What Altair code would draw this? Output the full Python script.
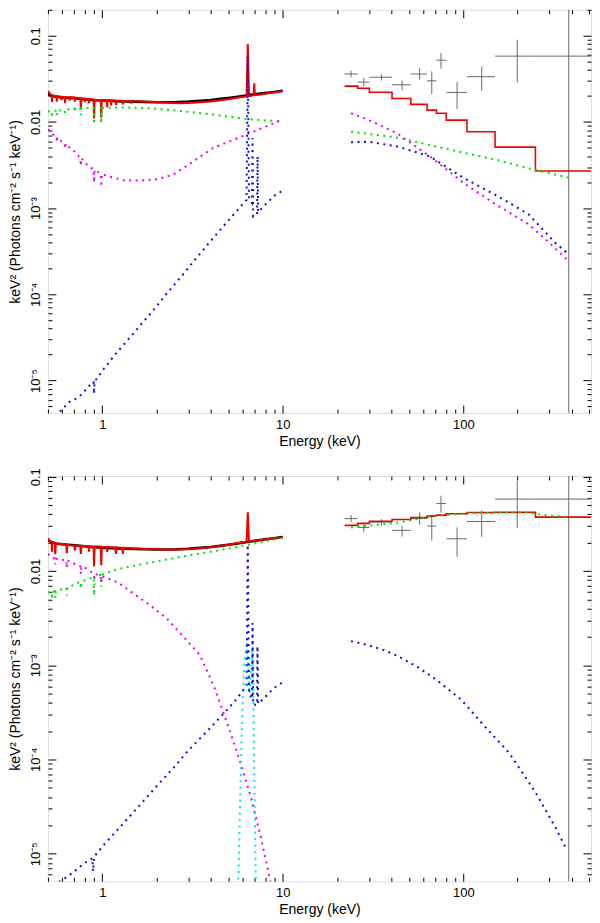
import math
import altair as alt
import pandas as pd

FONT = "Liberation Sans"
RED = "#f00000"
GREEN = "#00e000"
MAGENTA = "#ee00ee"
BLUE = "#1010d0"
CYAN = "#00e8e8"
GRAY = "#6a6a6a"

# ---------------- axes ----------------
X_DOMAIN = [0.5, 510]
TOP_Y_DOMAIN = [4.2e-6, 0.2]
BOT_Y_DOMAIN = [5.1e-6, 0.102]
X_MAJOR = [1, 10, 100]
X_LABELS = ["1", "10", "100"]
Y_MAJOR = [1e-5, 1e-4, 1e-3, 0.01, 0.1]
Y_LABELS = ["10⁻⁵", "10⁻⁴", "10⁻³", "0.01", "0.1"]
MINOR_MULT = [2, 3, 4, 5, 6, 7, 8, 9]
X_TITLE = "Energy (keV)"
Y_TITLE = "keV² (Photons cm⁻² s⁻¹ keV⁻¹)"

# ---------------- low-energy data (both panels) ----------------
DATA_LO_E = [0.50, 0.55, 0.60, 0.70, 0.80, 0.90, 1.0, 1.2, 1.5, 2.0, 2.5, 3.0, 3.5, 4.0,
             4.5, 5.0, 5.5, 6.0, 6.3, 6.6, 7.0, 7.5, 8.0, 8.5, 9.0, 9.5, 10.0]
DATA_LO_V = [0.0210, 0.0196, 0.0192, 0.0188, 0.0183, 0.0179, 0.0177, 0.0174, 0.0172, 0.0169,
             0.0169, 0.0172, 0.0176, 0.0180, 0.0185, 0.0190, 0.0195, 0.0200, 0.0203, 0.0206,
             0.0209, 0.0213, 0.0217, 0.0220, 0.0223, 0.0227, 0.0230]

# ---------------- high-energy data (both panels) ----------------
HI_E = [23.9, 28.1, 35.2, 45.8, 57.3, 66.9, 75.2, 92.4, 126.5, 199, 384]
HI_E_LO = [22.0, 26.0, 30.2, 40.3, 51.2, 63.0, 71.0, 80.5, 104.8, 150, 251]
HI_E_HI = [26.0, 30.2, 40.3, 51.2, 63.0, 71.0, 80.5, 104.8, 150, 251, 560]
HI_F = [0.036, 0.029, 0.033, 0.027, 0.036, 0.030, 0.052, 0.022, 0.0335, 0.058, 0.058]
HI_F_LO = [0.033, 0.0258, 0.0302, 0.0232, 0.031, 0.021, 0.0415, 0.0142, 0.023, 0.0287, 1e-9]
HI_F_HI = [0.0392, 0.0325, 0.0355, 0.0302, 0.042, 0.0387, 0.063, 0.029, 0.044, 0.090, 10.0]

MODEL_EDGES = [22.0, 26.0, 30.2, 40.3, 51.2, 63.0, 71.0, 80.5, 104.8, 150, 251, 560]

# ---------------- top panel models ----------------
TOP_RED_E = [0.50, 0.505, 0.515, 0.524, 0.526, 0.528,
             0.55, 0.558, 0.56, 0.562,
             0.59, 0.595, 0.60,
             0.618, 0.622, 0.626,
             0.655, 0.66, 0.665,
             0.70, 0.706, 0.71,
             0.755, 0.761, 0.767,
             0.795, 0.80, 0.805,
             0.84, 0.845, 0.85,
             0.895, 0.901, 0.907,
             0.98, 0.987, 0.994,
             1.058, 1.065, 1.072,
             1.115, 1.12, 1.125,
             1.18, 1.19, 1.20,
             1.29, 1.30, 1.31,
             1.44, 1.45, 1.46,
             1.8, 2.2, 2.7, 3.2, 4.0, 5.0, 5.8,
             6.3, 6.4, 6.5,
             6.9, 6.95, 7.0,
             7.7, 8.5, 10.0]
TOP_RED_V = [0.0220, 0.0223, 0.0210, 0.0204, 0.0170, 0.0203,
             0.0200, 0.0199, 0.0172, 0.0199,
             0.0197, 0.0180, 0.0196,
             0.0195, 0.0165, 0.0195,
             0.0194, 0.0178, 0.0194,
             0.0192, 0.0172, 0.0192,
             0.0189, 0.0144, 0.0188,
             0.0186, 0.0170, 0.0186,
             0.0184, 0.0165, 0.0183,
             0.0182, 0.0110, 0.0181,
             0.0180, 0.0113, 0.0180,
             0.0179, 0.0148, 0.0179,
             0.0178, 0.0155, 0.0178,
             0.0177, 0.0158, 0.0177,
             0.0176, 0.0160, 0.0176,
             0.0175, 0.0163, 0.0175,
             0.0172, 0.0168, 0.0165, 0.0167, 0.0173, 0.0183, 0.0193,
             0.0198, 0.0800, 0.0200,
             0.0204, 0.0280, 0.0205,
             0.0210, 0.0217, 0.0227]

TOP_GRN_E = [0.50, 0.524, 0.526, 0.528, 0.558, 0.56, 0.562, 0.60,
             0.618, 0.622, 0.626, 0.70, 0.706, 0.71, 0.755, 0.761, 0.767,
             0.895, 0.901, 0.907, 0.98, 0.987, 0.994,
             1.3, 1.6, 2.0, 2.7, 4.1, 6.3, 10.0]
TOP_GRN_V = [0.0132, 0.0134, 0.0112, 0.0134, 0.0135, 0.0120, 0.0135, 0.0137,
             0.0138, 0.0128, 0.0138, 0.0144, 0.0130, 0.0144, 0.0145, 0.0120, 0.0145,
             0.0146, 0.0094, 0.0146, 0.0146, 0.0096, 0.0146,
             0.0147, 0.0146, 0.0142, 0.0134, 0.0122, 0.0108, 0.0101]

TOP_MAG_E = [0.50, 0.549, 0.558, 0.56, 0.562, 0.597, 0.618, 0.622, 0.626, 0.649,
             0.706, 0.755, 0.761, 0.767, 0.80, 0.895, 0.901, 0.907, 0.98, 0.987, 0.994,
             1.074, 1.32, 1.63, 2.01, 2.48, 2.94, 4.11, 6.26, 10.0]
TOP_MAG_V = [0.0082, 0.0068, 0.0066, 0.0058, 0.0066, 0.0059, 0.0056, 0.0049, 0.0056, 0.0052,
             0.0045, 0.0038, 0.0031, 0.0038, 0.00335, 0.0028, 0.00198, 0.0028, 0.0025, 0.00177, 0.0025,
             0.00235, 0.0021, 0.0021, 0.00216, 0.00246, 0.0031, 0.0050, 0.0071, 0.0107]

TOP_BLU_E = [0.52, 0.55, 0.60, 0.65, 0.70, 0.75, 0.80, 0.85, 0.88, 0.895, 0.901, 0.907,
             0.95, 1.0, 1.2, 1.5, 1.85, 2.3, 2.8, 3.2, 4.0, 5.0, 5.9,
             6.3, 6.4, 6.5, 6.75, 6.8, 6.85, 7.2, 7.25, 7.3, 8.0, 9.0, 10.0]
TOP_BLU_V = [3.4e-6, 4.0e-6, 4.6e-6, 5.6e-6, 6.0e-6, 6.6e-6, 7.6e-6, 8.8e-6, 9.4e-6, 9.6e-6, 7.0e-6, 9.8e-6,
             1.1e-5, 1.3e-5, 2.1e-5, 3.6e-5, 6.0e-5, 1.05e-4, 1.7e-4, 2.4e-4, 4.2e-4, 7.2e-4, 1.07e-3,
             1.25e-3, 5.8e-2, 1.3e-3, 1.15e-3, 6.5e-3, 8.0e-4, 8.5e-4, 4.0e-3, 9.0e-4, 1.1e-3, 1.4e-3, 1.6e-3]

TOP_STEP = [0.0260, 0.0246, 0.0221, 0.0187, 0.0160, 0.0137, 0.0126, 0.0105, 0.0077, 0.0051, 0.0027]
TOP_HI_MAG_E = [23.9, 30, 43, 65, 100, 151, 230, 295, 385]
TOP_HI_MAG_V = [0.0126, 0.0105, 0.0074, 0.0040, 0.00197, 0.00111, 0.00065, 0.00041, 0.00024]
TOP_HI_GRN_E = [23.9, 43, 65, 100, 151, 230, 385]
TOP_HI_GRN_V = [0.0077, 0.0066, 0.0054, 0.0044, 0.00366, 0.0029, 0.00225]
TOP_HI_BLU_E = [23.9, 30, 43, 65, 100, 151, 230, 322, 385]
TOP_HI_BLU_V = [0.0058, 0.0059, 0.0052, 0.0040, 0.00225, 0.00142, 0.00085, 0.00040, 0.00029]

# ---------------- bottom panel models ----------------
BOT_RED_E = [0.50, 0.505, 0.515, 0.524, 0.526, 0.528,
             0.545, 0.549, 0.553, 0.60,
             0.632, 0.636, 0.640,
             0.70, 0.706, 0.71,
             0.755, 0.761, 0.767,
             0.84, 0.845, 0.85,
             0.895, 0.901, 0.907,
             0.98, 0.987, 0.994,
             1.058, 1.065, 1.072,
             1.18, 1.19, 1.20,
             1.29, 1.30, 1.31,
             1.6, 2.29, 3.2, 4.28, 5.2, 5.74,
             6.3, 6.4, 6.5, 10.0]
BOT_RED_V = [0.0210, 0.0217, 0.0205, 0.0200, 0.0160, 0.0199,
             0.0197, 0.0151, 0.0196, 0.0192,
             0.0190, 0.0155, 0.0190,
             0.0186, 0.0165, 0.0186,
             0.0184, 0.0152, 0.0184,
             0.0183, 0.0160, 0.0183,
             0.0182, 0.0112, 0.0182,
             0.0182, 0.0115, 0.0181,
             0.0180, 0.0160, 0.0180,
             0.0178, 0.0152, 0.0178,
             0.0176, 0.0152, 0.0176,
             0.0172, 0.0168, 0.0171, 0.0182, 0.0192, 0.0200,
             0.0205, 0.0420, 0.0207, 0.0227]

BOT_GRN_E = [0.50, 0.524, 0.526, 0.528, 0.545, 0.549, 0.553, 0.632, 0.636, 0.640, 0.649,
             0.755, 0.761, 0.767, 0.895, 0.901, 0.907, 0.98, 0.987, 0.994,
             1.218, 1.853, 2.82, 4.28, 5.74, 10.0]
BOT_GRN_V = [0.0059, 0.0060, 0.0050, 0.0060, 0.0061, 0.0052, 0.0061, 0.0066, 0.0055, 0.0066, 0.0067,
             0.0077, 0.0065, 0.0077, 0.0086, 0.0055, 0.0086, 0.0091, 0.0068, 0.0091,
             0.0105, 0.0123, 0.0143, 0.0164, 0.0182, 0.0226]

BOT_MAG_E = [0.50, 0.526, 0.545, 0.549, 0.553, 0.632, 0.636, 0.640, 0.649,
             0.755, 0.761, 0.767, 0.80, 0.895, 0.901, 0.907, 0.98, 0.987, 0.994,
             1.218, 1.50, 1.853, 2.29, 2.82, 3.47, 4.2, 4.76, 5.63, 6.66, 7.55, 8.56, 9.2]
BOT_MAG_V = [0.0152, 0.0139, 0.0136, 0.0118, 0.0135, 0.0130, 0.0108, 0.0129, 0.0128,
             0.0112, 0.0093, 0.0111, 0.0109, 0.0094, 0.0085, 0.0093, 0.0089, 0.0075, 0.0088,
             0.0076, 0.0057, 0.0043, 0.0031, 0.0020, 0.00129, 0.00057, 0.00029, 0.000114,
             0.000040, 0.000015, 0.0000050, 0.0000025]

BOT_BLU_E = [0.55, 0.573, 0.649, 0.70, 0.80, 0.86, 0.88, 0.89, 0.90, 0.95, 1.0,
             1.5, 2.0, 2.5, 3.0, 4.0, 5.0, 5.5, 6.1, 6.3, 6.4, 6.5,
             6.75, 6.8, 6.85, 7.2, 7.24, 7.3, 7.9, 8.9, 10.0]
BOT_BLU_V = [4.4e-6, 5.0e-6, 5.8e-6, 6.5e-6, 8.0e-6, 8.6e-6, 9.0e-6, 6.5e-6, 9.3e-6, 1.05e-5, 1.19e-5,
             2.8e-5, 5.2e-5, 8.3e-5, 1.25e-4, 2.2e-4, 3.5e-4, 4.3e-4, 5.6e-4, 6.1e-4, 1.9e-2, 5.0e-4,
             4.4e-4, 2.8e-3, 3.8e-4, 3.8e-4, 1.6e-3, 3.9e-4, 4.5e-4, 5.7e-4, 6.6e-4]

BOT_CYN_E = [5.55, 5.67, 5.87, 6.0, 6.15, 6.33, 6.55, 6.8, 6.87, 6.94, 7.09, 7.2]
BOT_CYN_V = [1.5e-6, 5e-6, 9e-5, 4.5e-4, 1.1e-3, 1.8e-3, 5e-4, 1.5e-3, 4.5e-4, 9e-5, 5e-6, 1.5e-6]

BOT_STEP = [0.0305, 0.0320, 0.0338, 0.0352, 0.0370, 0.0382, 0.0392, 0.0405, 0.0418, 0.0421, 0.0373]
BOT_HI_GRN_E = [23.9, 43, 65, 100, 151, 230, 296, 385]
BOT_HI_GRN_V = [0.0290, 0.0326, 0.0377, 0.0408, 0.0415, 0.0415, 0.0388, 0.0377]
BOT_HI_BLU_E = [23.9, 29.6, 36.3, 43, 55.3, 71, 97.6, 133.5, 178.5, 251, 323, 369]
BOT_HI_BLU_V = [1.8e-3, 1.64e-3, 1.45e-3, 1.26e-3, 9.7e-4, 7.0e-4, 4.3e-4, 2.17e-4, 1.19e-4, 4.5e-5, 1.92e-5, 1.16e-5]

# ---------------- layout ----------------
PLOT_W = 544
TOP_H = 404
BOT_H = 406
MAJOR_TICK = 8
MINOR_TICK = 4
DOT = [2, 4.5]


def label_expr(vals, labs):
    s = "''"
    for v, lab in zip(vals, labs):
        s = f"abs(log(datum.value)/LN10 - ({math.log10(v):.4f})) < 0.01 ? '{lab}' : " + s
    return s


def minor_values(lo, hi):
    out = []
    for e in range(-7, 4):
        for m in MINOR_MULT:
            v = m * 10.0 ** e
            if lo <= v <= hi:
                out.append(v)
    return out


COMMON = dict(domain=False, grid=False, tickColor="black", tickWidth=1,
              labelFont=FONT, labelFontSize=13, labelColor="black",
              titleFont=FONT, titleFontSize=14, titleFontWeight="normal", titleColor="black")


def make_axis(orient, values, size, labels=False, title=None, expr=None, vertical=False):
    kw = dict(COMMON)
    kw.update(orient=orient, values=values, tickSize=size, offset=-size, labels=labels, title=title)
    if labels:
        kw.update(labelExpr=expr)
        if vertical:
            kw.update(labelAngle=270, labelAlign="center", labelBaseline="bottom",
                      labelPadding=5, titlePadding=7)
        else:
            kw.update(labelPadding=5, titlePadding=3)
    return alt.Axis(**kw)


def panel(ydom, height, lines, steps):
    xs = alt.Scale(type="log", domain=X_DOMAIN, nice=False)
    ys = alt.Scale(type="log", domain=ydom, nice=False)
    xminor = minor_values(X_DOMAIN[0], X_DOMAIN[1])
    ymajor = [v for v in Y_MAJOR if ydom[0] <= v <= ydom[1] * 1.01]
    yminor = minor_values(ydom[0], ydom[1])
    anchor = pd.DataFrame({"E": [1.0], "F": [0.01]})

    def axis_layer(xa, ya):
        return alt.Chart(anchor).mark_point(opacity=0).encode(
            x=alt.X("E:Q", scale=xs, axis=xa), y=alt.Y("F:Q", scale=ys, axis=ya))

    layers = [
        axis_layer(make_axis("bottom", X_MAJOR, MAJOR_TICK, True, X_TITLE, label_expr(X_MAJOR, X_LABELS)),
                   make_axis("left", ymajor, MAJOR_TICK, True, Y_TITLE, label_expr(Y_MAJOR, Y_LABELS), True)),
        axis_layer(make_axis("bottom", xminor, MINOR_TICK), make_axis("left", yminor, MINOR_TICK)),
        axis_layer(make_axis("top", X_MAJOR, MAJOR_TICK), make_axis("right", ymajor, MAJOR_TICK)),
        axis_layer(make_axis("top", xminor, MINOR_TICK), make_axis("right", yminor, MINOR_TICK)),
    ]

    # low-energy data band
    df = pd.DataFrame({"E": DATA_LO_E, "F": DATA_LO_V})
    layers.append(alt.Chart(df).mark_line(color="black", strokeWidth=2.6, clip=True).encode(
        x=alt.X("E:Q", scale=xs, axis=None), y=alt.Y("F:Q", scale=ys, axis=None)))

    # high-energy data crosses
    err = pd.DataFrame({"E": HI_E, "lo": HI_E_LO, "hi": HI_E_HI,
                        "F": HI_F, "flo": HI_F_LO, "fhi": HI_F_HI})
    layers.append(alt.Chart(err).mark_rule(color=GRAY, strokeWidth=1, clip=True).encode(
        x=alt.X("E:Q", scale=xs, axis=None), y=alt.Y("flo:Q", scale=ys, axis=None), y2="fhi:Q"))
    layers.append(alt.Chart(err).mark_rule(color=GRAY, strokeWidth=1, clip=True).encode(
        x=alt.X("lo:Q", scale=xs, axis=None), x2="hi:Q", y=alt.Y("F:Q", scale=ys, axis=None)))

    # step model (total, high energy)
    sdf = pd.DataFrame({"E": MODEL_EDGES, "F": steps + [steps[-1]]})
    layers.append(alt.Chart(sdf).mark_line(color=RED, strokeWidth=1.6, clip=True,
                                           interpolate="step-after").encode(
        x=alt.X("E:Q", scale=xs, axis=None), y=alt.Y("F:Q", scale=ys, axis=None)))

    for E, V, color, dotted, width in lines:
        ldf = pd.DataFrame({"E": E, "F": V})
        mk = dict(color=color, strokeWidth=width, clip=True)
        if dotted:
            mk["strokeDash"] = DOT
        layers.append(alt.Chart(ldf).mark_line(**mk).encode(
            x=alt.X("E:Q", scale=xs, axis=None), y=alt.Y("F:Q", scale=ys, axis=None)))

    return alt.layer(*layers).resolve_axis(x="independent", y="independent").properties(
        width=PLOT_W, height=height)


top = panel(TOP_Y_DOMAIN, TOP_H, [
    (TOP_RED_E, TOP_RED_V, RED, False, 2),
    (TOP_GRN_E, TOP_GRN_V, GREEN, True, 2),
    (TOP_MAG_E, TOP_MAG_V, MAGENTA, True, 2),
    (TOP_BLU_E, TOP_BLU_V, BLUE, True, 2),
    (TOP_HI_GRN_E, TOP_HI_GRN_V, GREEN, True, 2),
    (TOP_HI_MAG_E, TOP_HI_MAG_V, MAGENTA, True, 2),
    (TOP_HI_BLU_E, TOP_HI_BLU_V, BLUE, True, 2),
], TOP_STEP)

bottom = panel(BOT_Y_DOMAIN, BOT_H, [
    (BOT_RED_E, BOT_RED_V, RED, False, 2),
    (BOT_GRN_E, BOT_GRN_V, GREEN, True, 2),
    (BOT_MAG_E, BOT_MAG_V, MAGENTA, True, 2),
    (BOT_CYN_E, BOT_CYN_V, CYAN, True, 2),
    (BOT_BLU_E, BOT_BLU_V, BLUE, True, 2),
    (BOT_HI_GRN_E, BOT_HI_GRN_V, GREEN, True, 2),
    (BOT_HI_BLU_E, BOT_HI_BLU_V, BLUE, True, 2),
], BOT_STEP)

chart = alt.vconcat(top, bottom, spacing=18).resolve_scale(
    x="independent", y="independent").properties(
    padding={"left": 0, "top": 0, "right": 0, "bottom": 0},
    background="white",
).configure_view(stroke="black", strokeWidth=1).configure(font=FONT)

chart.save("out.html", embed_options={"renderer": "svg", "actions": False})
